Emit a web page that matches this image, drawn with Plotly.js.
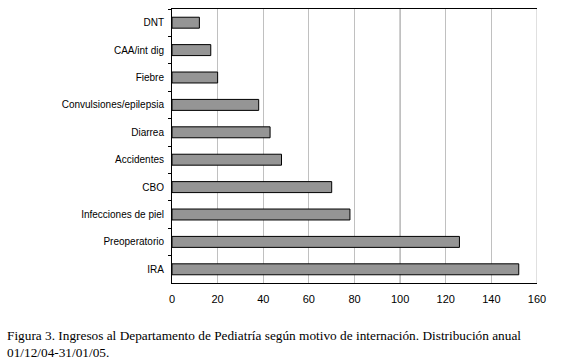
<!DOCTYPE html>
<html>
<head>
<meta charset="utf-8">
<script src="https://cdn.plot.ly/plotly-3.0.1.min.js"></script>
<style>html,body{margin:0;padding:0;background:#fff;}#chart{width:583px;height:363px;}</style>
</head>
<body>
<div id="chart"></div>
<script>
var categories = ["DNT", "CAA/int dig", "Fiebre", "Convulsiones/epilepsia", "Diarrea", "Accidentes", "CBO", "Infecciones de piel", "Preoperatorio", "IRA"];
var values = [12, 17, 20, 38, 43, 48, 70, 78, 126, 152];
var xTicks = [0, 20, 40, 60, 80, 100, 120, 140, 160];
var captionLines = ["Figura 3. Ingresos al Departamento de Pediatría según motivo de internación. Distribución anual", "01/12/04-31/01/05."];

var trace = {
  type: "bar",
  orientation: "h",
  y: categories,
  x: values,
  width: 0.4,
  marker: {color: "#959595", line: {color: "#000", width: 1}},
  hoverinfo: "none"
};

var layout = {
  width: 583,
  height: 363,
  margin: {l: 172, r: 46, t: 9, b: 80},
  paper_bgcolor: "#fff",
  plot_bgcolor: "#fff",
  showlegend: false,
  font: {family: "Liberation Sans, Arial, sans-serif", size: 10, color: "#000"},
  xaxis: {
    range: [0, 160],
    tickvals: xTicks,
    ticktext: xTicks.map(String),
    showgrid: true,
    gridcolor: "#c0c0c0",
    gridwidth: 1,
    zeroline: false,
    showline: true,
    linecolor: "#000",
    linewidth: 1,
    mirror: true,
    ticks: "",
    ticklen: 0,
    ticklabelstandoff: 6,
    tickfont: {size: 11}
  },
  yaxis: {
    autorange: "reversed",
    showline: true,
    linecolor: "#000",
    linewidth: 1,
    ticks: "outside",
    tickson: "boundaries",
    ticklen: 3,
    tickcolor: "#000",
    showgrid: false,
    zeroline: false,
    tickfont: {size: 10},
    ticklabelstandoff: 5
  },
  shapes: [{
    type: "line", xref: "x", yref: "paper", x0: 100, x1: 100, y0: 0, y1: 1,
    line: {color: "#808080", width: 1}, layer: "below"
  }, {
    type: "line", xref: "x", yref: "paper", x0: 160, x1: 160, y0: 0, y1: 1,
    line: {color: "#c0c0c0", width: 1}, layer: "below"
  }],
  annotations: [{
    xref: "paper", yref: "paper",
    x: -167 / 365, y: -43 / 274,
    xanchor: "left", yanchor: "top",
    align: "left",
    showarrow: false,
    text: captionLines.join("<br>"),
    font: {family: "Liberation Serif, Times New Roman, serif", size: 13.3, color: "#000"}
  }]
};

Plotly.newPlot("chart", [trace], layout, {displayModeBar: false, staticPlot: true});
</script>
</body>
</html>
